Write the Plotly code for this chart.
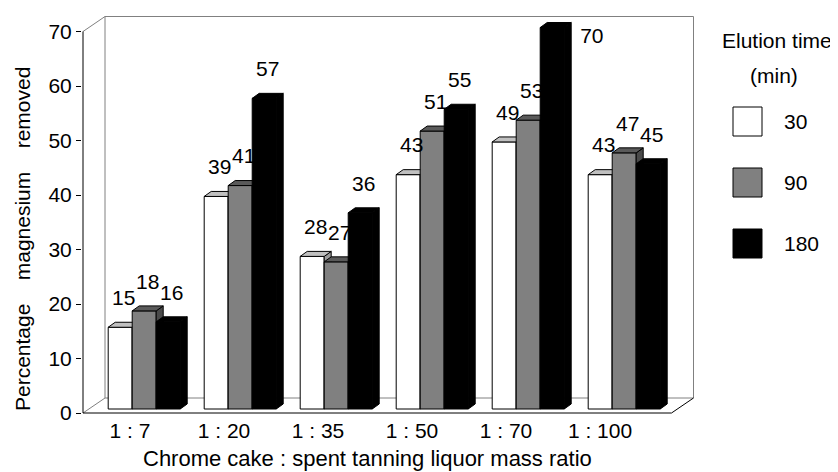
import plotly.graph_objects as go

# ---------------- data ----------------
CATEGORIES = ["1 : 7", "1 : 20", "1 : 35", "1 : 50", "1 : 70", "1 : 100"]
SERIES_NAMES = ["30", "90", "180"]
VALUES_30 = [15, 39, 28, 43, 49, 43]
VALUES_90 = [18, 41, 27, 51, 53, 47]
VALUES_180 = [16, 57, 36, 55, 70, 45]
Y_TICKS = [0, 10, 20, 30, 40, 50, 60, 70]
X_TITLE = "Chrome cake : spent tanning liquor mass ratio"
Y_TITLE_WORDS = ["Percentage", "magnesium", "removed"]
LEGEND_TITLE = ["Elution time", "(min)"]

SERIES = [VALUES_30, VALUES_90, VALUES_180]

# ---------------- styles ----------------
FRONT = ["#ffffff", "#808080", "#000000"]
TOP = ["#c0c0c0", "#5a5a5a", "#000000"]
SIDE = ["#9a9a9a", "#4a4a4a", "#000000"]
WALL = "#808080"
FONT = "Liberation Sans, Arial, sans-serif"
FS = 21

# page body has an 8px default margin: the figure is sized to fit the window
PAGE_W, PAGE_H, BODY_MARGIN = 838, 472, 8
W, H = PAGE_W - BODY_MARGIN, PAGE_H - BODY_MARGIN

# plot area in window pixel coordinates
PLOT_L, PLOT_R, PLOT_T, PLOT_B = 82, 696, 13, 414
ML, MR = PLOT_L - BODY_MARGIN, PAGE_W - PLOT_R
MT, MB = PLOT_T - BODY_MARGIN, PAGE_H - PLOT_B

PX_PER_CAT = 96.0
PX_PER_UNIT = 5.45
AXIS_X_PX = 83.0
ZERO_Y_PX = 413.0

X_RANGE = [-0.5 - (AXIS_X_PX - PLOT_L) / PX_PER_CAT, -0.5 + (PLOT_R - AXIS_X_PX) / PX_PER_CAT]
Y_RANGE = [-(PLOT_B - ZERO_Y_PX) / PX_PER_UNIT, (ZERO_Y_PX - PLOT_T) / PX_PER_UNIT]

# category label axis (labels sit on their own spacing)
LBL_X0_PX, LBL_STEP_PX = 130.0, 94.0
X4_RANGE = [(PLOT_L - LBL_X0_PX) / LBL_STEP_PX, (PLOT_R - LBL_X0_PX) / LBL_STEP_PX]

WALL_DX = 22 / PX_PER_CAT
WALL_DY = 15 / PX_PER_UNIT
FRONT_RIGHT = -0.5 + 588.5 / PX_PER_CAT
AXIS_TOP = Y_TICKS[-1]

BAR_W = 0.25
BAR_DX = 7 / PX_PER_CAT
BAR_DY = 5 / PX_PER_UNIT
BAR_BASE = 4 / PX_PER_UNIT
BAR_OFFSETS = [-0.2375, 0.0125, 0.2625]
LABEL_GAP = 17 / PX_PER_UNIT


def px_x(px):
    return (px - PLOT_L) / (PLOT_R - PLOT_L)


def px_y(py):
    return (PLOT_B - py) / (PLOT_B - PLOT_T)


fig = go.Figure()

axes_pairs = [("x", "y"), ("x2", "y2"), ("x3", "y3")]

for k, vals in enumerate(SERIES):
    xa, ya = axes_pairs[k]
    idx = list(range(len(CATEGORIES)))
    # front faces
    fig.add_trace(go.Bar(
        x=idx, y=vals, base=BAR_BASE, width=BAR_W, offset=BAR_OFFSETS[k],
        marker=dict(color=FRONT[k], line=dict(color="black", width=1)),
        name=SERIES_NAMES[k], xaxis=xa, yaxis=ya, hoverinfo="skip",
        showlegend=False,
    ))
    # side + top faces
    sx, sy, tx, ty = [], [], [], []
    for i, v in enumerate(vals):
        x0 = i + BAR_OFFSETS[k]
        x1 = x0 + BAR_W
        yb = BAR_BASE
        yt = BAR_BASE + v
        sx += [x1, x1 + BAR_DX, x1 + BAR_DX, x1, x1, None]
        sy += [yb, yb + BAR_DY, yt + BAR_DY, yt, yb, None]
        tx += [x0, x1, x1 + BAR_DX, x0 + BAR_DX, x0, None]
        ty += [yt, yt, yt + BAR_DY, yt + BAR_DY, yt, None]
    fig.add_trace(go.Scatter(x=sx, y=sy, mode="lines", fill="toself",
                             fillcolor=SIDE[k], line=dict(color="black", width=1),
                             xaxis=xa, yaxis=ya, hoverinfo="skip", showlegend=False))
    fig.add_trace(go.Scatter(x=tx, y=ty, mode="lines", fill="toself",
                             fillcolor=TOP[k], line=dict(color="black", width=1),
                             xaxis=xa, yaxis=ya, hoverinfo="skip", showlegend=False))

# value labels (top-most layer)
for k, vals in enumerate(SERIES):
    lx, ly, lt, lp = [], [], [], []
    for i, v in enumerate(vals):
        x0 = i + BAR_OFFSETS[k]
        yt = BAR_BASE + v
        if yt + BAR_DY + LABEL_GAP + 22 / PX_PER_UNIT > Y_RANGE[1]:
            lx.append(x0 + BAR_W + BAR_DX + 9 / PX_PER_CAT)
            ly.append(yt - 10 / PX_PER_UNIT)
            lp.append("middle right")
        else:
            lx.append(x0 + BAR_W / 2 + BAR_DX / 2)
            ly.append(yt + LABEL_GAP)
            lp.append("top center")
        lt.append(str(v))
    fig.add_trace(go.Scatter(x=lx, y=ly, mode="text", text=lt, textposition=lp,
                             textfont=dict(family=FONT, size=FS, color="black"),
                             xaxis="x3", yaxis="y3", cliponaxis=False,
                             hoverinfo="skip", showlegend=False))

# dummy trace for category label axis
fig.add_trace(go.Scatter(x=[None], y=[None], xaxis="x4", yaxis="y",
                         hoverinfo="skip", showlegend=False))

# ---------------- walls / floor ----------------
BLx = -0.5 + WALL_DX
BRx = FRONT_RIGHT + WALL_DX
TOPY = AXIS_TOP + WALL_DY
shapes = []


def seg(x0, y0, x1, y1, color):
    shapes.append(dict(type="line", xref="x", yref="y", x0=x0, y0=y0, x1=x1, y1=y1,
                       line=dict(color=color, width=1), layer="below"))


seg(BLx, WALL_DY, BLx, TOPY, WALL)
seg(BLx, TOPY, BRx, TOPY, WALL)
seg(BRx, WALL_DY, BRx, TOPY, WALL)
seg(BLx, WALL_DY, BRx, WALL_DY, WALL)
seg(-0.5, 0, BLx, WALL_DY, WALL)
seg(-0.5, AXIS_TOP, BLx, TOPY, WALL)
seg(-0.5, 0, FRONT_RIGHT, 0, "black")
seg(FRONT_RIGHT, 0, BRx, WALL_DY, "black")
seg(-0.5, 0, -0.5, AXIS_TOP, "black")

# ---------------- legend (hand drawn) ----------------
annotations = []
LEG_BOX_X, LEG_BOX_Y0, LEG_STEP, LEG_BOX = 733, 107, 61, 29
for k, name in enumerate(SERIES_NAMES):
    y0 = LEG_BOX_Y0 + k * LEG_STEP
    shapes.append(dict(type="rect", xref="paper", yref="paper",
                       x0=px_x(LEG_BOX_X), x1=px_x(LEG_BOX_X + LEG_BOX),
                       y0=px_y(y0 + LEG_BOX), y1=px_y(y0),
                       fillcolor=FRONT[k], line=dict(color="black", width=1)))
    annotations.append(dict(xref="paper", yref="paper", x=px_x(782), y=px_y(y0 + LEG_BOX / 2),
                            xanchor="left", yanchor="middle", text=name, showarrow=False,
                            font=dict(family=FONT, size=FS, color="black")))
annotations.append(dict(xref="paper", yref="paper", x=px_x(777), y=px_y(41),
                        xanchor="center", yanchor="middle", text=LEGEND_TITLE[0], showarrow=False,
                        font=dict(family=FONT, size=FS, color="black")))
annotations.append(dict(xref="paper", yref="paper", x=px_x(774), y=px_y(75),
                        xanchor="center", yanchor="middle", text=LEGEND_TITLE[1], showarrow=False,
                        font=dict(family=FONT, size=FS, color="black")))

# axis titles
annotations.append(dict(xref="paper", yref="paper", x=px_x(367), y=px_y(458),
                        xanchor="center", yanchor="middle", text=X_TITLE, showarrow=False,
                        font=dict(family=FONT, size=FS + 1, color="black")))
annotations.append(dict(xref="paper", yref="paper", x=px_x(22), y=px_y(239),
                        xanchor="center", yanchor="middle", textangle=-90,
                        text="\u00a0\u00a0\u00a0\u00a0".join(Y_TITLE_WORDS), showarrow=False,
                        font=dict(family=FONT, size=FS, color="black")))

hidden = dict(visible=False, showgrid=False, zeroline=False, automargin=False)
fig.update_layout(
    width=W, height=H,
    margin=dict(l=ML, r=MR, t=MT, b=MB, pad=0, autoexpand=False),
    paper_bgcolor="white", plot_bgcolor="white",
    font=dict(family=FONT, size=FS, color="black"),
    showlegend=False, barmode="overlay", hovermode=False,
    xaxis=dict(range=X_RANGE, showgrid=False, zeroline=False, showline=False,
               showticklabels=False, ticks="", automargin=False),
    yaxis=dict(range=Y_RANGE, tickvals=Y_TICKS, ticks="outside", ticklen=5,
               tickcolor="black", tickwidth=1, showgrid=False, zeroline=False,
               showline=False, automargin=False,
               tickfont=dict(family=FONT, size=FS, color="black")),
    xaxis2=dict(range=X_RANGE, overlaying="x", anchor="y2", **hidden),
    yaxis2=dict(range=Y_RANGE, overlaying="y", anchor="x2", **hidden),
    xaxis3=dict(range=X_RANGE, overlaying="x", anchor="y3", **hidden),
    yaxis3=dict(range=Y_RANGE, overlaying="y", anchor="x3", **hidden),
    xaxis4=dict(range=X4_RANGE, overlaying="x", anchor="y", side="bottom",
                tickvals=list(range(len(CATEGORIES))), ticktext=CATEGORIES,
                ticks="", showgrid=False, zeroline=False, showline=False,
                automargin=False, ticklabelstandoff=2,
                tickfont=dict(family=FONT, size=FS, color="black")),
    shapes=shapes, annotations=annotations,
)

fig.write_html("out.html")
